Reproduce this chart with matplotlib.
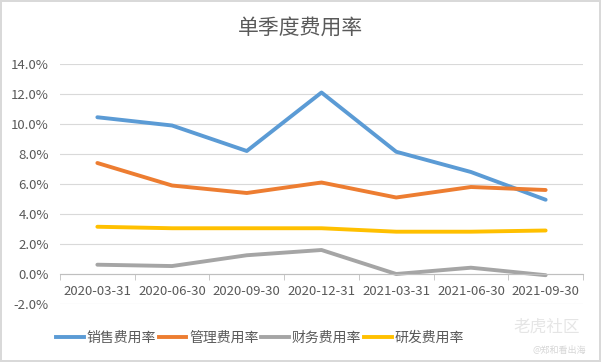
import matplotlib
matplotlib.use("Agg")
import matplotlib.pyplot as plt
import matplotlib.ticker as mticker
from matplotlib.lines import Line2D
import numpy as np

plt.rcParams["font.family"] = ["Noto Sans CJK SC", "DejaVu Sans"]

# ── Data ──────────────────────────────────────────────────────────────────────
dates = ["2020-03-31", "2020-06-30", "2020-09-30", "2020-12-31",
         "2021-03-31", "2021-06-30", "2021-09-30"]
sales = [10.45, 9.9, 8.2, 12.1, 8.15, 6.8, 4.95]
admin = [7.4, 5.9, 5.4, 6.1, 5.1, 5.8, 5.6]
finance = [0.62, 0.53, 1.25, 1.6, 0.0, 0.42, -0.08]
rnd = [3.15, 3.05, 3.05, 3.05, 2.82, 2.82, 2.9]

series = [
    ("销售费用率", sales, "#5B9BD5"),
    ("管理费用率", admin, "#ED7D31"),
    ("财务费用率", finance, "#A5A5A5"),
    ("研发费用率", rnd, "#FFC000"),
]

text_color = "#595959"

fig = plt.figure(figsize=(6.01, 3.62), dpi=100)
fig.patch.set_edgecolor("#D9D9D9")
fig.patch.set_linewidth(1.5)
ax = fig.add_axes([60 / 601, 1 - 304 / 362, 523 / 601, 240 / 362])

x = np.arange(len(dates))
for name, vals, color in series:
    ax.plot(x, vals, color=color, lw=2.8, solid_capstyle="round",
            solid_joinstyle="round", label=name)

ax.set_xlim(-0.5, len(dates) - 0.5)
ax.set_ylim(-2, 14)
ax.set_yticks(np.arange(-2, 14.1, 2))
ax.yaxis.set_major_formatter(mticker.FuncFormatter(lambda v, _: f"{v:.1f}%"))
ax.grid(axis="y", color="#D9D9D9", lw=0.8)
ax.set_axisbelow(True)

for s in ["top", "right", "left"]:
    ax.spines[s].set_visible(False)
ax.spines["bottom"].set_position(("data", 0))
ax.spines["bottom"].set_color("#BFBFBF")

ax.set_xticks(x)
ax.set_xticklabels(dates)
ax.set_xticks(np.arange(-0.5, len(dates), 1), minor=True)
ax.tick_params(axis="x", which="major", length=0, pad=8, labelsize=9.5, labelcolor=text_color)
ax.tick_params(axis="x", which="minor", length=4, color="#BFBFBF")
ax.tick_params(axis="y", length=0, pad=8, labelsize=9.5, labelcolor=text_color)

fig.text(0.5, 1 - 28 / 362, "单季度费用率", ha="center", va="center",
         fontsize=15, color=text_color)

handles = [Line2D([0], [0], color=c, lw=2.8) for _, _, c in series]
fig.legend(handles, [n for n, _, _ in series], loc="center",
           bbox_to_anchor=(260 / 601, 1 - 338 / 362), ncol=4, frameon=False,
           fontsize=10, handlelength=2.0, handletextpad=0.2, columnspacing=0.2,
           labelcolor=text_color)

# watermark
fig.text(0.965, 1 - 327 / 362, "老虎社区", ha="right", va="center",
         fontsize=12, color="#E3E3E3", alpha=0.9)
fig.text(0.975, 1 - 350 / 362, "@郑和看出海", ha="right", va="center",
         fontsize=6.5, color="#D6D6D6")

fig.savefig("out.png", dpi=100)
